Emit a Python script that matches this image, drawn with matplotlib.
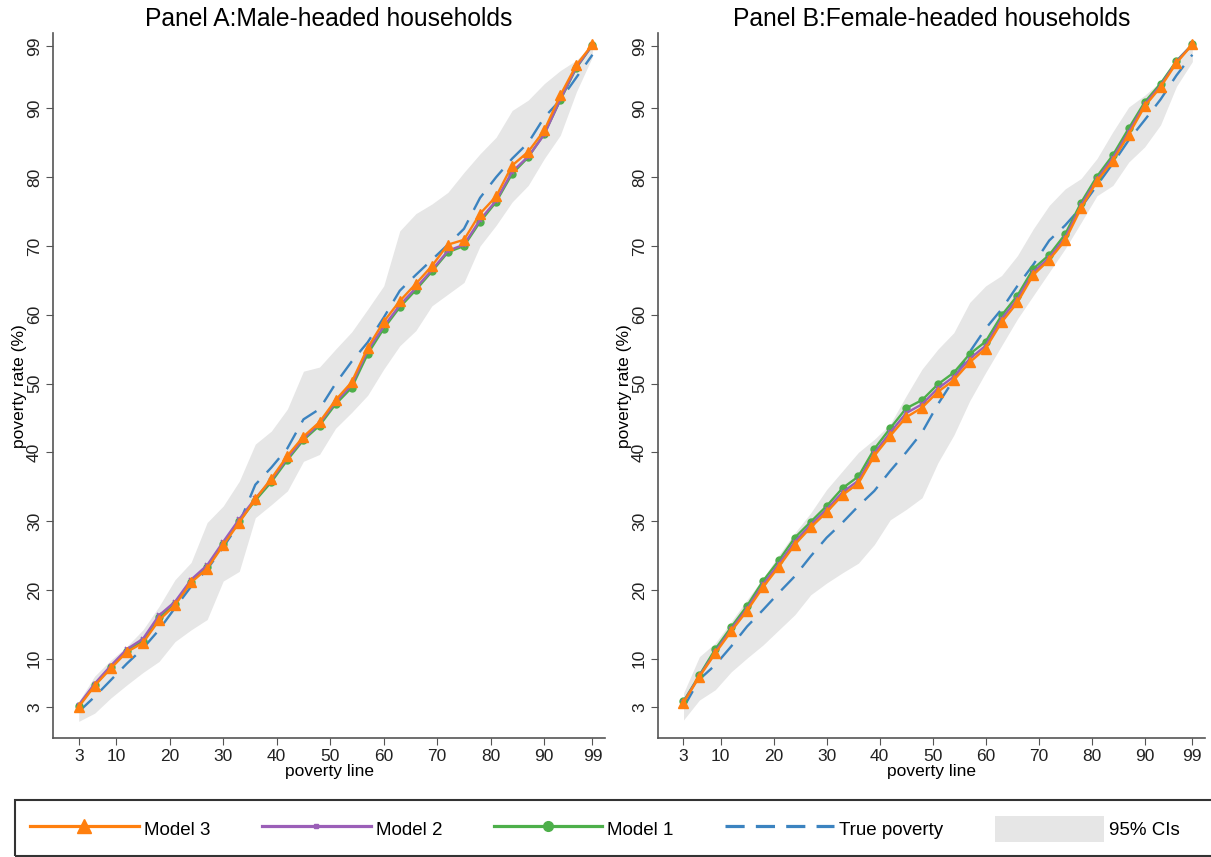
import numpy as np
import matplotlib.pyplot as plt
from matplotlib.patches import Patch, Rectangle
from matplotlib.lines import Line2D

plt.rcParams['font.family'] = ['Liberation Sans', 'DejaVu Sans']

# poverty lines (percentiles)
lines = list(range(3, 100, 3))

# Panel A: male-headed households
a_model3 = [3.0, 6.1, 8.6, 11.0, 12.3, 15.6, 17.8, 21.1, 23.1, 26.5, 29.8, 33.2, 36.2, 39.5, 42.3, 44.4,
            47.6, 50.2, 55.2, 59.0, 62.0, 64.5, 67.1, 70.2, 70.9, 74.7, 77.2, 81.7, 83.7, 86.8, 91.9, 96.3, 99.3]
a_model2 = [3.3, 6.4, 9.0, 11.4, 12.9, 16.3, 18.3, 21.5, 23.6, 27.0, 30.3, 33.3, 36.0, 39.2, 42.0, 44.2,
            47.3, 49.8, 54.8, 58.3, 61.4, 63.9, 66.5, 69.3, 70.2, 73.8, 76.6, 80.8, 83.0, 86.2, 91.3, 96.0, 99.2]
a_model1 = [3.2, 6.2, 8.8, 11.2, 12.6, 16.0, 18.0, 21.2, 23.3, 26.7, 30.0, 33.0, 35.7, 38.9, 41.8, 43.9,
            47.0, 49.4, 54.3, 58.0, 61.1, 63.6, 66.3, 69.1, 70.0, 73.5, 76.4, 80.5, 82.9, 86.3, 91.2, 95.9, 99.2]
a_true = [2.3, 4.5, 6.9, 9.3, 11.5, 14.2, 17.4, 20.5, 23.0, 26.2, 29.7, 35.3, 37.8, 40.6, 44.8, 46.3,
          50.0, 53.2, 56.0, 59.6, 63.5, 65.8, 68.0, 70.2, 72.5, 77.0, 80.0, 82.7, 85.0, 88.7, 91.2, 94.5, 97.8]
a_ci_lo = [0.9, 2.1, 4.3, 6.2, 8.0, 9.6, 12.5, 14.2, 15.7, 21.3, 22.7, 30.5, 32.4, 34.4, 38.7, 39.7,
           43.5, 45.8, 48.3, 52.1, 55.5, 57.7, 61.3, 63.0, 64.7, 70.0, 73.0, 76.4, 78.8, 82.7, 86.1, 92.4, 97.5]
a_ci_hi = [3.8, 7.5, 9.8, 11.8, 14.2, 17.6, 21.5, 24.0, 29.8, 32.2, 35.8, 41.2, 43.1, 46.3, 51.8, 52.4,
           55.0, 57.5, 60.8, 64.2, 72.2, 74.7, 76.1, 77.8, 80.7, 83.4, 85.8, 89.7, 91.2, 93.6, 95.5, 97.0, 99.2]

# Panel B: female-headed households
b_model3 = [3.6, 7.4, 10.8, 14.0, 17.0, 20.4, 23.4, 26.6, 29.1, 31.3, 33.8, 35.5, 39.5, 42.4, 45.1, 46.5,
            48.8, 50.5, 53.1, 55.1, 58.9, 61.8, 65.8, 68.0, 70.8, 75.5, 79.4, 82.4, 86.2, 90.3, 93.1, 96.6, 99.3]
b_model2 = [3.7, 7.5, 11.0, 14.3, 17.3, 20.8, 23.8, 27.0, 29.5, 31.7, 34.2, 35.9, 39.9, 42.9, 45.7, 47.0,
            49.3, 51.0, 53.6, 55.5, 59.4, 62.3, 66.2, 68.3, 71.2, 75.9, 79.7, 82.8, 86.6, 90.6, 93.3, 96.8, 99.3]
b_model1 = [3.8, 7.6, 11.4, 14.6, 17.7, 21.3, 24.3, 27.6, 29.9, 32.2, 34.8, 36.5, 40.5, 43.5, 46.4, 47.6,
            49.9, 51.6, 54.3, 56.1, 59.9, 62.8, 66.7, 68.7, 71.7, 76.3, 80.1, 83.2, 87.1, 90.9, 93.6, 96.9, 99.3]
b_true = [2.9, 7.0, 9.1, 11.8, 14.7, 17.1, 19.6, 22.0, 24.9, 27.6, 29.8, 32.2, 34.4, 37.3, 40.0, 42.9,
          47.0, 50.6, 54.6, 58.0, 60.8, 64.2, 67.3, 70.8, 73.0, 75.6, 78.8, 82.0, 85.4, 88.3, 91.3, 94.8, 97.8]
b_ci_lo = [1.1, 4.0, 5.5, 8.1, 10.1, 12.0, 14.2, 16.4, 19.3, 21.0, 22.5, 23.9, 26.6, 30.2, 31.7, 33.4,
           38.5, 42.5, 47.5, 51.6, 55.5, 59.4, 62.8, 66.2, 69.6, 73.4, 77.3, 78.8, 82.2, 84.4, 87.6, 93.2, 96.8]
b_ci_hi = [5.0, 10.3, 12.3, 15.4, 18.6, 21.7, 25.1, 28.3, 31.2, 34.6, 37.3, 40.0, 41.9, 44.1, 48.2, 52.1,
           55.0, 57.4, 61.8, 64.2, 65.7, 68.6, 72.5, 75.9, 78.3, 79.8, 82.7, 86.6, 90.2, 91.9, 93.9, 97.2, 99.2]

ticks = [3, 10, 20, 30, 40, 50, 60, 70, 80, 90, 99]

c3 = '#ff7f0e'
c2 = '#9b5fb8'
c1 = '#4daf4a'
ct = '#3b83c0'
cci = '#e6e6e6'

fig = plt.figure(figsize=(12.11, 8.57), dpi=100)
axA = fig.add_axes([0.0438, 0.139, 0.456, 0.822])
axB = fig.add_axes([0.5434, 0.139, 0.4517, 0.822])

panels = [
    (axA, 'Panel A:Male-headed households', a_model3, a_model2, a_model1, a_true, a_ci_lo, a_ci_hi),
    (axB, 'Panel B:Female-headed households', b_model3, b_model2, b_model1, b_true, b_ci_lo, b_ci_hi),
]

for ax, title, m3, m2, m1, tp, lo, hi in panels:
    ax.fill_between(lines, lo, hi, color=cci, lw=0, zorder=1)
    ax.plot(lines, tp, color=ct, ls=(0, (8, 5)), lw=1.7, zorder=2)
    ax.plot(lines, m1, color=c1, lw=1.7, marker='o', ms=5, zorder=3)
    ax.plot(lines, m2, color=c2, lw=1.7, marker='x', ms=3, mew=1.2, zorder=4)
    ax.plot(lines, m3, color=c3, lw=1.7, marker='^', ms=7, zorder=5)
    ax.set_xlim(-1.8, 101.4)
    ax.set_ylim(-1.5, 100.9)
    ax.set_xticks(ticks)
    ax.set_yticks(ticks)
    ax.set_yticklabels([str(t) for t in ticks], rotation=90, va='center')
    ax.tick_params(labelsize=12.5, length=5, color='#555555', labelcolor='#222222', pad=3)
    for s in ['top', 'right']:
        ax.spines[s].set_visible(False)
    for s in ['left', 'bottom']:
        ax.spines[s].set_color('#555555')
        ax.spines[s].set_linewidth(1.2)
    ax.set_title(title, fontsize=17.7, pad=5)
    ax.set_xlabel('poverty line', fontsize=12.5, labelpad=0)
    ax.set_ylabel('poverty rate (%)', fontsize=12.5, labelpad=0)

# legend box across the bottom of the figure
fig.patches.append(Rectangle((15 / 1211, 1.5 / 857), 1.0, 55.5 / 857, transform=fig.transFigure,
                             facecolor='none', edgecolor='#333333', lw=1.5))

handles = [
    Line2D([], [], color=c3, lw=2.3, marker='^', ms=10),
    Line2D([], [], color=c2, lw=2.3, marker='s', ms=3),
    Line2D([], [], color=c1, lw=2.3, marker='o', ms=7),
    Line2D([], [], color=ct, lw=2.3, ls=(0, (6, 3.5))),
    Patch(facecolor=cci, edgecolor='none'),
]
labels = ['Model 3', 'Model 2', 'Model 1', 'True poverty', '95% CIs']
leg = fig.legend(handles, labels, loc='center left', bbox_to_anchor=(30 / 1211, 1 - 829 / 857),
                 ncol=5, fontsize=13.5, handlelength=5.8, handleheight=1.7,
                 handletextpad=0.27, columnspacing=2.75, borderpad=0, borderaxespad=0,
                 frameon=False)

plt.savefig('out.png', dpi=100)
